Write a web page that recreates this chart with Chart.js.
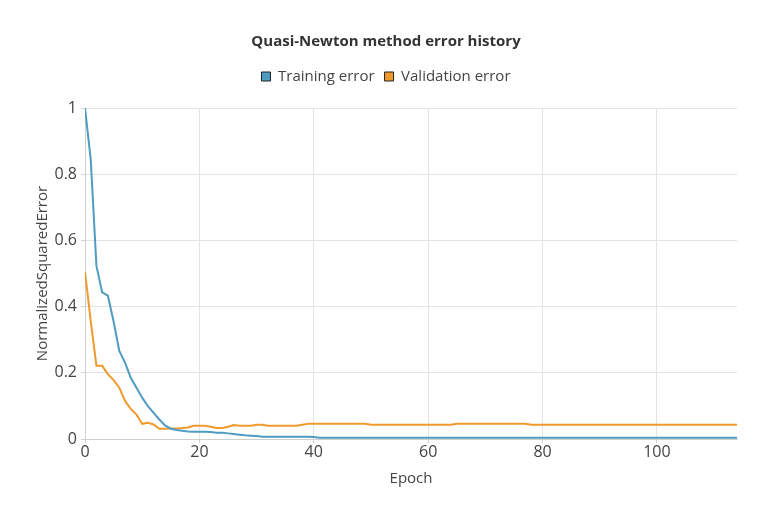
<!DOCTYPE html>
<html>
<head>
<meta charset="utf-8">
<script src="https://cdn.jsdelivr.net/npm/chart.js@4/dist/chart.umd.min.js"></script>
<style>
  html, body { margin: 0; padding: 0; background: #fff; }
  #wrap { width: 780px; height: 520px; position: relative; }
</style>
</head>
<body>
<div id="wrap"><canvas id="c"></canvas></div>
<script>
const chartTitle = 'Quasi-Newton method error history';
const seriesNames = ['Training error', 'Validation error'];
const xTitle = 'Epoch';
const yTitle = 'NormalizedSquaredError';
const xTicks = [0, 20, 40, 60, 80, 100];
const yTicks = [0, 0.2, 0.4, 0.6, 0.8, 1];

const trainingError = [
  1.000, 0.845, 0.523, 0.443, 0.433, 0.355, 0.266, 0.231, 0.185, 0.155,
  0.125, 0.099, 0.079, 0.059, 0.041, 0.031, 0.027, 0.025, 0.023, 0.022,
  0.022, 0.022, 0.021, 0.019, 0.019, 0.017, 0.015, 0.013, 0.011, 0.010,
  0.009, 0.007, 0.007, 0.007, 0.007, 0.007, 0.007, 0.007, 0.007, 0.007,
  0.006, 0.004, 0.004, 0.004, 0.004, 0.004, 0.004, 0.004, 0.004, 0.004,
  0.004, 0.004, 0.004, 0.004, 0.004, 0.004, 0.004, 0.004, 0.004, 0.004,
  0.0035, 0.0035, 0.0035, 0.0035, 0.0035, 0.0035, 0.0035, 0.0035, 0.0035, 0.0035,
  0.0035, 0.0035, 0.0035, 0.0035, 0.0035, 0.0035, 0.0035, 0.0035, 0.0035, 0.0035,
  0.0035, 0.0035, 0.0035, 0.0035, 0.0035, 0.0035, 0.0035, 0.0035, 0.0035, 0.0035,
  0.0035, 0.0035, 0.0035, 0.0035, 0.0035, 0.0035, 0.0035, 0.0035, 0.0035, 0.0035,
  0.0035, 0.0035, 0.0035, 0.0035, 0.0035, 0.0035, 0.0035, 0.0035, 0.0035, 0.0035,
  0.0035, 0.0035, 0.0035, 0.0035, 0.0035
];

const validationError = [
  0.505, 0.357, 0.221, 0.221, 0.196, 0.178, 0.155, 0.115, 0.091, 0.074,
  0.046, 0.049, 0.044, 0.031, 0.031, 0.032, 0.032, 0.033, 0.035, 0.040,
  0.040, 0.040, 0.037, 0.033, 0.033, 0.037, 0.042, 0.040, 0.040, 0.040,
  0.043, 0.043, 0.040, 0.040, 0.040, 0.040, 0.040, 0.040, 0.043, 0.046,
  0.046, 0.046, 0.046, 0.046, 0.046, 0.046, 0.046, 0.046, 0.046, 0.046,
  0.043, 0.043, 0.043, 0.043, 0.043, 0.043, 0.043, 0.043, 0.043, 0.043,
  0.043, 0.043, 0.043, 0.043, 0.043,
  0.046, 0.046, 0.046, 0.046, 0.046, 0.046, 0.046, 0.046, 0.046, 0.046,
  0.046, 0.046, 0.046,
  0.043, 0.043, 0.043, 0.043, 0.043, 0.043, 0.043, 0.043, 0.043, 0.043,
  0.043, 0.043, 0.043, 0.043, 0.043, 0.043, 0.043, 0.043, 0.043, 0.043,
  0.043, 0.043, 0.043, 0.043, 0.043, 0.043, 0.043, 0.043, 0.043, 0.043,
  0.043, 0.043, 0.043, 0.043, 0.043, 0.043, 0.043
];

const epochs = trainingError.map((_, i) => i);

const colors = ['#4e9cc2', '#f09a2c'];
const FONT = "'Open Sans', 'Noto Sans', sans-serif";

new Chart(document.getElementById('c'), {
  type: 'line',
  data: {
    labels: epochs,
    datasets: [
      { label: seriesNames[0], data: trainingError, borderColor: colors[0], backgroundColor: colors[0],
        borderWidth: 2, pointRadius: 0, tension: 0, fill: false },
      { label: seriesNames[1], data: validationError, borderColor: colors[1], backgroundColor: colors[1],
        borderWidth: 2, pointRadius: 0, tension: 0, fill: false }
    ]
  },
  options: {
    responsive: true,
    maintainAspectRatio: false,
    animation: false,
    layout: { padding: { left: 0, right: 8, top: 0, bottom: 0 } },
    plugins: {
      title: {
        display: true, text: chartTitle, color: '#333',
        font: { family: FONT, size: 15, weight: 'bold' },
        padding: { top: 33, bottom: 8 }
      },
      subtitle: {
        display: true, text: ' ', weight: 500,
        font: { family: FONT, size: 10 },
        padding: { top: 2, bottom: 0 }
      },
      legend: {
        display: true, position: 'top',
        labels: {
          font: { family: FONT, size: 15 }, color: '#444',
          boxWidth: 9, boxHeight: 9, padding: 10,
          generateLabels: (chart) => chart.data.datasets.map((d, i) => ({
            text: d.label, fillStyle: colors[i], strokeStyle: '#222', lineWidth: 1,
            hidden: false, datasetIndex: i, fontColor: '#444'
          }))
        }
      },
      tooltip: { enabled: false }
    },
    scales: {
      x: {
        type: 'linear', min: 0, max: 114,
        afterFit: (s) => { s.height = 81; s.paddingRight = 43; },
        afterBuildTicks: (s) => { s.ticks = xTicks.map(v => ({ value: v })); },
        title: { display: true, text: xTitle, color: '#444', font: { family: FONT, size: 15 }, padding: { top: 2, bottom: 32 } },
        ticks: { color: '#444', font: { family: FONT, size: 16 }, padding: 0, maxRotation: 0 },
        grid: { color: '#e3e3e3', tickLength: 4, tickColor: '#d0d0d0' },
        border: { color: '#cfcfcf' }
      },
      y: {
        type: 'linear', min: 0, max: 1,
        afterFit: (s) => { s.width = 85; },
        afterBuildTicks: (s) => { s.ticks = yTicks.map(v => ({ value: v })); },
        title: { display: true, text: yTitle, color: '#444', font: { family: FONT, size: 15 }, padding: { top: 34, bottom: 4 } },
        ticks: { color: '#444', font: { family: FONT, size: 16 }, padding: 4,
                 callback: (v) => String(v) },
        grid: { color: '#e3e3e3', tickLength: 4, tickColor: '#d0d0d0' },
        border: { color: '#cfcfcf' }
      }
    }
  }
});
</script>
</body>
</html>
